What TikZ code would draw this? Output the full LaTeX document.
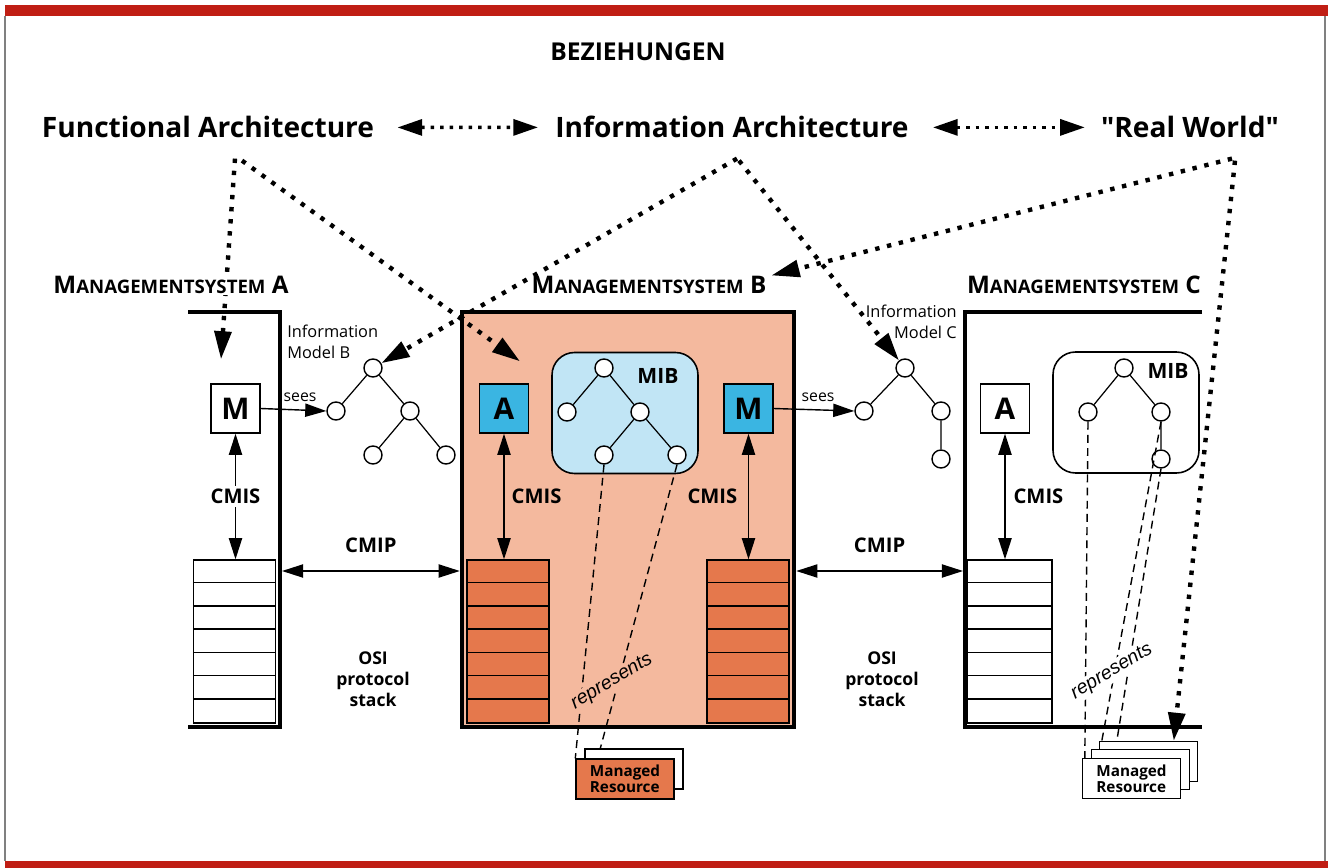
\documentclass[tikz,border=0pt]{standalone}
\usepackage{fontspec}
\setmainfont{Open Sans}
\newfontfamily\repfont{Liberation Sans}
\usetikzlibrary{arrows.meta,positioning}

\definecolor{bandred}{RGB}{192,30,20}
\definecolor{salmon}{RGB}{244,185,158}
\definecolor{brick}{RGB}{229,120,76}
\definecolor{cyanbox}{RGB}{58,181,226}
\definecolor{mibblue}{RGB}{193,229,245}

\newcommand{\msys}[1]{M{\fontsize{10.6}{11}\selectfont ANAGEMENTSYSTEM} #1}

\tikzset{
  head/.style={inner sep=0pt, anchor=base, font=\fontsize{16}{18}\selectfont\bfseries},
  syslabel/.style={anchor=base, fill=white, inner sep=1pt, font=\fontsize{13.8}{15}\selectfont\bfseries},
  infolabel/.style={inner sep=0pt, font=\fontsize{9.3}{11.5}\selectfont},
  cmis/.style={inner sep=0pt, font=\fontsize{11.5}{12}\selectfont\bfseries},
  frameline/.style={line width=2.6pt},
  relarrow/.style={line width=2.5pt, dash pattern=on 2.5pt off 4.4pt, -{Triangle[length=16pt,width=9.5pt]}},
  headarrow/.style={line width=2pt, dash pattern=on 2pt off 3.4pt, {Triangle[length=14pt,width=9pt]}-{Triangle[length=14pt,width=9pt]}},
  sarrow/.style={line width=0.8pt, -{Triangle[length=12pt,width=7.5pt]}},
  biarrow/.style={line width=0.8pt, {Triangle[length=12pt,width=7.5pt]}-{Triangle[length=12pt,width=7.5pt]}},
  agent/.style={draw, line width=0.8pt, minimum size=0.98cm, inner sep=0pt, font=\fontsize{17}{18}\selectfont\bfseries},
  leaf/.style={circle, draw, fill=white, line width=0.8pt, minimum size=0.36cm, inner sep=0pt},
  mib/.style={draw, line width=0.9pt, rounded corners=0.45cm, minimum width=2.92cm, minimum height=2.42cm},
  miblabel/.style={anchor=base, inner sep=0pt, font=\fontsize{12}{12}\selectfont\bfseries},
  stack/.style={draw, line width=0.8pt, minimum width=1.64cm, minimum height=3.26cm, inner sep=0pt},
  osilabel/.style={align=center, inner sep=0pt, font=\fontsize{10}{12}\selectfont\bfseries},
  repline/.style={line width=0.8pt, dash pattern=on 4.5pt off 3pt},
  represents/.style={rotate=31, inner sep=1pt, font=\repfont\itshape\fontsize{11}{12}\selectfont},
  resbox/.style={draw, line width=0.8pt, minimum width=1.96cm, minimum height=0.8cm, inner sep=0pt, align=left, font=\fontsize{8.7}{9.3}\selectfont\bfseries},
  sees/.style={inner sep=0pt, font=\fontsize{9}{10}\selectfont}
}

\begin{document}
\begin{tikzpicture}[x=0.02cm, y=-0.02cm]
\useasboundingbox (0,0) rectangle (1328,868);
% page frame
\fill[bandred] (5,5) rectangle (1328,16);
\fill[bandred] (5,861) rectangle (1328,868);
\draw[gray, line width=0.6pt] (5,16) -- (5,861);
\draw[gray, line width=0.6pt] (1325,16) -- (1325,861);

% headings
\node[anchor=base, font=\fontsize{14}{16}\selectfont\bfseries] (title) at (638,61) {BEZIEHUNGEN};
\node[head] (fa) at (208,138) {Functional Architecture};
\node[head] (ia) at (732,138) {Information Architecture};
\node[head] (rw) at (1190,138) {\textquotedbl Real World\textquotedbl};
\draw[headarrow, shorten <=0.46cm, shorten >=0.34cm] (fa.east) -- (ia.west);
\draw[headarrow, shorten <=0.48cm, shorten >=0.32cm] (ia.east) -- (ia.east -| rw.west);

% Managementsystem B
\node[draw, frameline, fill=salmon, minimum width=6.64cm, minimum height=8.3cm] (sysb) at (628,519.5) {};

% protocol stacks
\node[stack, fill=white] (sa) at (234.5,641.5) {};
\node[stack, fill=brick] (sbl) at (508,641.5) {};
\node[stack, fill=brick] (sbr) at (748,641.5) {};
\node[stack, fill=white, minimum width=1.7cm] (sc) at (1009.5,641.5) {};
\foreach \s in {sa,sbl,sbr,sc}
  \foreach \k in {1,...,6}
    \draw[line width=0.8pt] ([yshift=-\k*0.4657cm]\s.north west) -- ([yshift=-\k*0.4657cm]\s.north east);

% Managementsystem A and C
\draw[frameline] (188,312) -- (280,312) -- (280,727) -- (188,727);
\draw[frameline] (1202,312) -- (965,312) -- (965,727) -- (1202,727);

% managers and agents
\node[agent] (ma) at (235.5,408.5) {M};
\node[agent, fill=cyanbox] (ab) at (504,408.5) {A};
\node[agent, fill=cyanbox] (mb) at (748.5,408.5) {M};
\node[agent] (ac) at (1005,408.5) {A};

% information model B
\node[leaf] (b0) at (373,368) {};
\node[leaf] (b1) at (336,411) {};
\node[leaf] (b2) at (410,411) {};
\node[leaf] (b3) at (373,455) {};
\node[leaf] (b4) at (446,455) {};
\draw[line width=0.7pt] (b0) -- (b1) (b0) -- (b2) (b2) -- (b3) (b2) -- (b4);
\node[infolabel, align=left, anchor=north west] (imb) at (287,325) {Information\\Model B};

% information model C
\node[leaf] (c0) at (905,368) {};
\node[leaf] (c1) at (864,411) {};
\node[leaf] (c2) at (941,411) {};
\node[leaf] (c3) at (941,459) {};
\draw[line width=0.7pt] (c0) -- (c1) (c0) -- (c2) (c2) -- (c3);
\node[infolabel, align=right, anchor=north east] (imc) at (957,305) {Information\\Model C};

% MIB of B
\node[mib, fill=mibblue] (mibb) at (625,413) {};
\node[leaf] (m0) at (604,368) {};
\node[leaf] (m1) at (567,412) {};
\node[leaf] (m2) at (640,412) {};
\node[leaf] (m3) at (604,455) {};
\node[leaf] (m4) at (677,455) {};
\draw[line width=0.7pt] (m0) -- (m1) (m0) -- (m2) (m2) -- (m3) (m2) -- (m4);
\node[miblabel] (mibbl) at (658,383) {MIB};

% MIB of C
\node[mib] (mibc) at (1126,412.5) {};
\node[leaf] (n0) at (1124,368) {};
\node[leaf] (n1) at (1088,412) {};
\node[leaf] (n2) at (1161,412) {};
\node[leaf] (n3) at (1161,459) {};
\draw[line width=0.7pt] (n0) -- (n1) (n0) -- (n2) (n2) -- (n3);
\node[miblabel] (mibcl) at (1168,378) {MIB};

% sees
\draw[sarrow] (ma.east) -- (b1.west) node[sees, pos=0.6, above=4.5pt] {sees};
\draw[sarrow] (mb.east) -- (c1.west) node[sees, pos=0.55, above=4.5pt] {sees};

% CMIS
\draw[biarrow] (ma) -- (ma |- sa.north) node[cmis, midway, fill=white, inner sep=2pt] {CMIS};
\draw[biarrow] (ab) -- (ab |- sbl.north) node[cmis, midway, right=4pt] {CMIS};
\draw[biarrow] (mb) -- (mb |- sbr.north) node[cmis, midway, left=6pt] {CMIS};
\draw[biarrow] (ac) -- (ac |- sc.north) node[cmis, midway, right=4.5pt] {CMIS};

% CMIP
\coordinate (pa) at (282,571);
\coordinate (pc) at (963,571);
\draw[biarrow] (pa) -- (pa -| sysb.west) node[cmis, midway, above=10pt] {CMIP};
\draw[biarrow] (pa -| sysb.east) -- (pc) node[cmis, midway, above=10pt] {CMIP};
\node[osilabel] (osia) at (373,679) {OSI\\protocol\\stack};
\node[osilabel] (osic) at (882,679) {OSI\\protocol\\stack};

% managed resources
\node[resbox, fill=white] (mrb2) at (634,769) {};
\node[resbox, fill=brick] (mrb) at (625,779) {Managed\\Resource};
\node[resbox, fill=white] (mrc3) at (1148.5,761.5) {};
\node[resbox, fill=white] (mrc2) at (1140.5,769.5) {};
\node[resbox, fill=white] (mrc) at (1131.5,778.5) {Managed\\Resource};

% represents
\draw[repline] (m3.south) -- (mrb.north west);
\draw[repline] (m4.south) -- ([xshift=0.32cm]mrb2.north west);
\node[represents, fill=salmon] (repb) at (612,682) {represents};
\draw[repline] (n1.south) -- ([xshift=0.06cm]mrc.north west);
\draw[repline] (n2.south) -- ([xshift=0.06cm]mrc3.north west);
\draw[repline] (n3.south) -- ([xshift=0.36cm]mrc3.north west);
\node[represents, fill=white] (repc) at (1112,672) {represents};

% system labels
\node[syslabel] (msb) at (649,293) {\msys{B}};
\node[syslabel] (msc) at (1084,293) {\msys{C}};

% relations
\draw[relarrow] ([xshift=0.54cm,yshift=-0.4cm]fa.south) -- ([xshift=-0.29cm,yshift=0.48cm]ma.north);
\draw[relarrow] ([xshift=0.68cm,yshift=-0.44cm]fa.south) -- ([xshift=0.32cm,yshift=0.44cm]ab.north);
\draw[relarrow] ([xshift=0.1cm,yshift=-0.4cm]ia.south) -- ([xshift=0.4cm,yshift=0.6cm]b0);
\draw[relarrow] ([xshift=0.14cm,yshift=-0.44cm]ia.south) -- ([xshift=-0.44cm,yshift=0.16cm]c0);
\draw[relarrow] ([xshift=0.84cm,yshift=-0.4cm]rw.south) -- ([xshift=0.06cm,yshift=0.18cm]msb.east);
\draw[relarrow] ([xshift=0.9cm,yshift=-0.44cm]rw.south) -- ([xshift=1.5cm]mrc3.north west);

\node[syslabel] (msa) at (171,293) {\msys{A}};
\end{tikzpicture}
\end{document}
